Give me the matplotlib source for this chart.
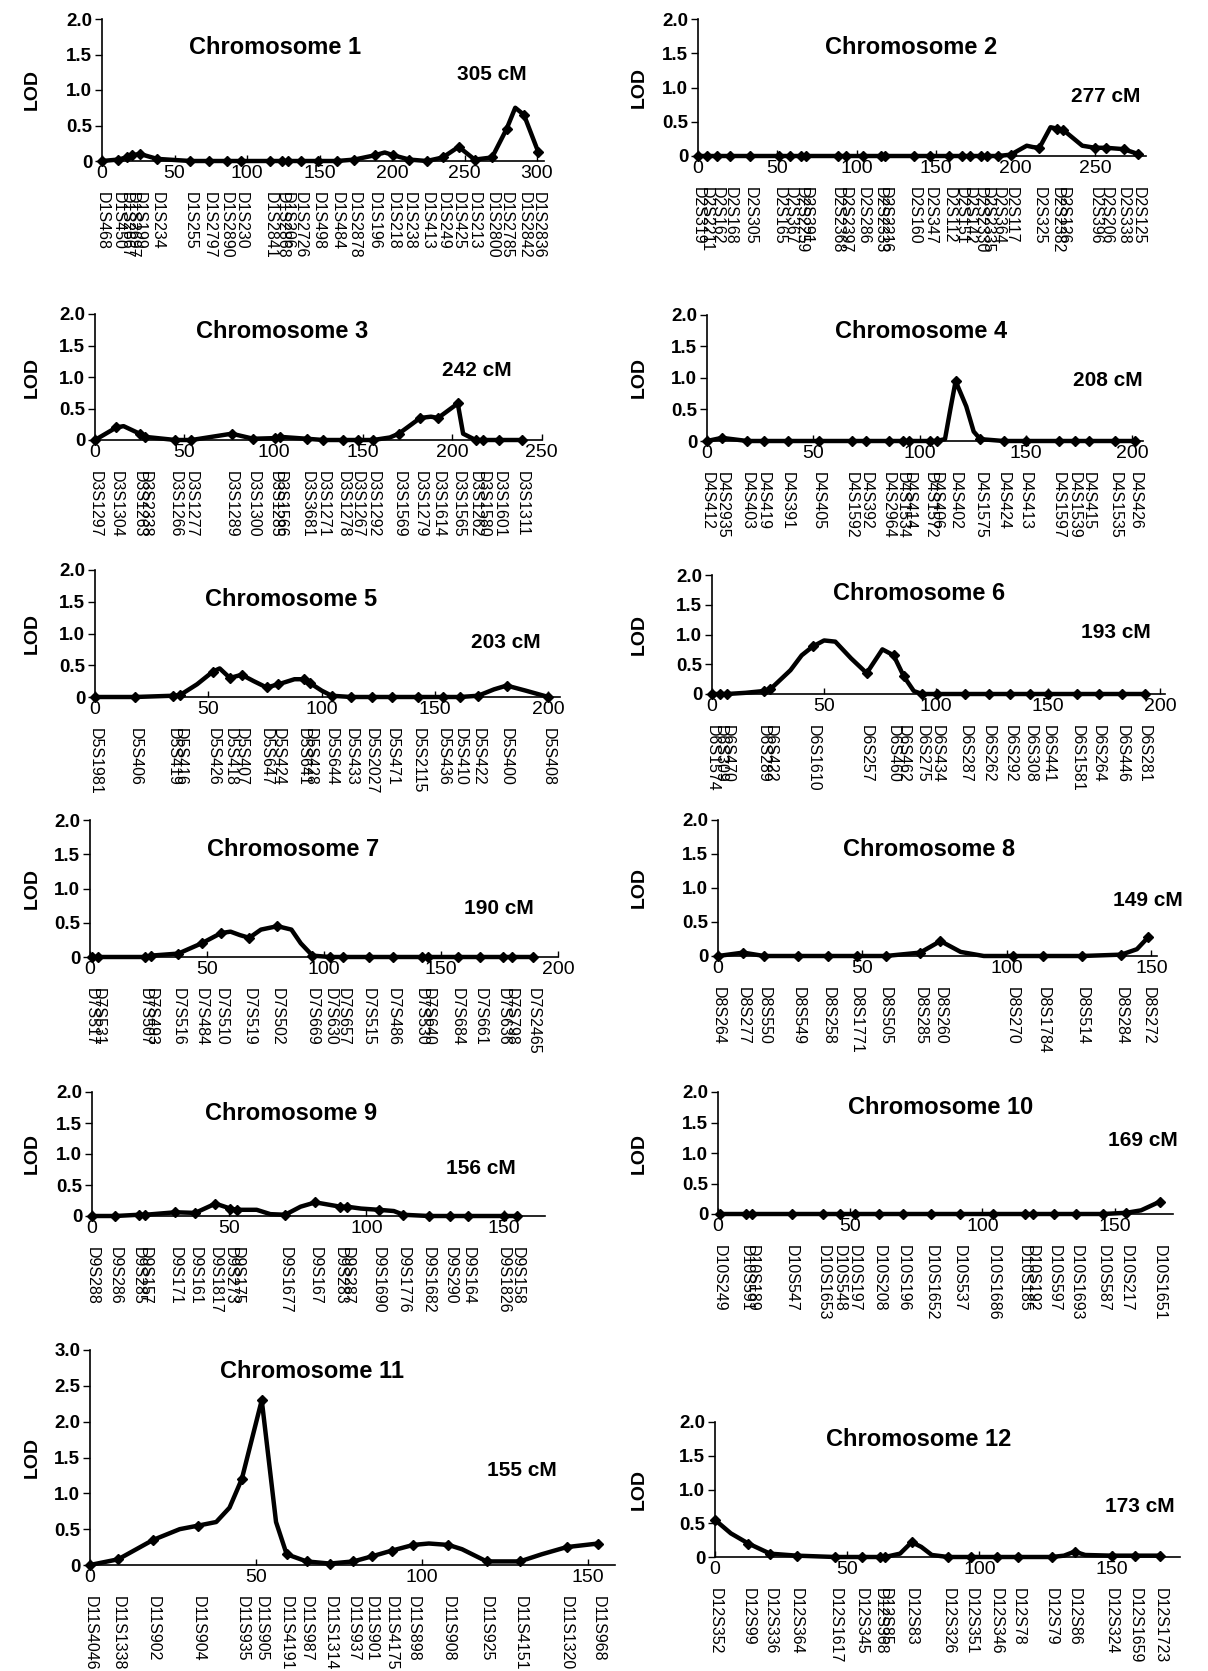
import numpy as np
import matplotlib
matplotlib.use("Agg")
import matplotlib.pyplot as plt

plt.rcParams['font.family'] = ['Liberation Sans', 'DejaVu Sans']

W, H = 1208, 1671

# ---------------- data ----------------
chr1_names = ["D1S468", "D1S450", "D1S2667", "D1S2697", "D1S199", "D1S234", "D1S255", "D1S2797",
              "D1S2890", "D1S230", "D1S2841", "D1S2868", "D1S206", "D1S2726", "D1S498", "D1S484",
              "D1S2878", "D1S196", "D1S218", "D1S238", "D1S413", "D1S249", "D1S425", "D1S213",
              "D1S2800", "D1S2785", "D1S2842", "D1S2836"]
chr1_pos = [0, 11, 17, 21, 26, 38, 61, 74, 86, 96, 116, 124, 128, 137, 149, 162,
            174, 188, 201, 212, 224, 235, 246, 257, 269, 279, 291, 301]
chr1_lod = [0, 0.02, 0.05, 0.08, 0.1, 0.03, 0, 0, 0, 0, 0, 0, 0, 0, 0, 0,
            0.02, 0.08, 0.08, 0.02, 0, 0.05, 0.2, 0.02, 0.05, 0.45, 0.65, 0.12]
chr1_xpos = [195, 285]
chr1_xlod = [0.12, 0.75]

chr2_names = ["D2S319", "D2S2211", "D2S162", "D2S168", "D2S305", "D2S165", "D2S367", "D2S2259",
              "D2S391", "D2S2368", "D2S2397", "D2S286", "D2S2333", "D2S2216", "D2S160", "D2S347",
              "D2S112", "D2S151", "D2S142", "D2S2330", "D2S2335", "D2S364", "D2S117", "D2S325",
              "D2S2382", "D2S126", "D2S396", "D2S206", "D2S338", "D2S125"]
chr2_pos = [0, 5.5, 12, 20, 33, 51, 58, 65, 68, 88, 93, 104, 115, 118, 136, 146,
            158, 166, 171, 178, 182, 189, 197, 215, 226, 230, 250, 257, 268, 277]
chr2_lod = [0] * 22 + [0.02, 0.12, 0.4, 0.38, 0.12, 0.12, 0.1, 0.03]
chr2_xpos = [207, 211, 222, 242]
chr2_xlod = [0.15, 0.13, 0.42, 0.15]

chr3_names = ["D3S1297", "D3S1304", "D3S1263", "D3S2338", "D3S1266", "D3S1277", "D3S1289", "D3S1300",
              "D3S1285", "D3S1566", "D3S3681", "D3S1271", "D3S1278", "D3S1267", "D3S1292", "D3S1569",
              "D3S1279", "D3S1614", "D3S1565", "D3S1262", "D3S1580", "D3S1601", "D3S1311"]
chr3_pos = [0, 12, 25, 28, 45, 54, 76.5, 88.6, 100.7, 103.5, 118.5, 127.8, 139, 147, 155.7,
            170, 182, 192, 203, 213, 217, 226, 239]
chr3_lod = [0, 0.2, 0.1, 0.05, 0, 0, 0.1, 0.02, 0.03, 0.05, 0.02, 0, 0, 0, 0,
            0.1, 0.35, 0.35, 0.58, 0, 0, 0, 0]
chr3_xpos = [16, 165, 188, 206]
chr3_xlod = [0.22, 0.04, 0.37, 0.1]

chr4_names = ["D4S412", "D4S2935", "D4S403", "D4S419", "D4S391", "D4S405", "D4S1592", "D4S392",
              "D4S2964", "D4S1534", "D4S414", "D4S1572", "D4S406", "D4S402", "D4S1575", "D4S424",
              "D4S413", "D4S1597", "D4S1539", "D4S415", "D4S1535", "D4S426"]
chr4_pos = [0, 7, 19, 26.6, 38, 52.5, 68, 75, 85.5, 92, 95, 105, 108, 117, 128.6, 139.6,
            150, 165.5, 173, 179.6, 192, 201.5]
chr4_lod = [0, 0.05, 0, 0, 0, 0, 0, 0, 0, 0, 0, 0, 0, 0.95, 0.03, 0,
            0, 0, 0, 0, 0, 0]
chr4_xpos = [112, 114.5, 122, 125.5]
chr4_xlod = [0.03, 0.5, 0.55, 0.15]

chr5_names = ["D5S1981", "D5S406", "D5S419", "D5S416", "D5S426", "D5S418", "D5S407", "D5S647",
              "D5S424", "D5S641", "D5S428", "D5S644", "D5S433", "D5S2027", "D5S471", "D5S2115",
              "D5S436", "D5S410", "D5S422", "D5S400", "D5S408"]
chr5_pos = [0, 17.6, 34.5, 37.5, 52, 59.5, 64.7, 75.7, 80.9, 92, 94.8, 104.4, 113, 122, 131, 142.6,
            153.6, 161, 169, 181.6, 200]
chr5_lod = [0, 0, 0.02, 0.03, 0.4, 0.3, 0.35, 0.15, 0.2, 0.28, 0.22, 0.02, 0, 0, 0, 0,
            0, 0, 0.02, 0.18, 0]
chr5_xpos = [45, 55, 70, 88, 100, 176, 190]
chr5_xlod = [0.2, 0.45, 0.25, 0.28, 0.1, 0.12, 0.1]

chr6_names = ["D6S1574", "D6S309", "D6S470", "D6S289", "D6S422", "D6S1610", "D6S257", "D6S460",
              "D6S462", "D6S275", "D6S434", "D6S287", "D6S262", "D6S292", "D6S308", "D6S441",
              "D6S1581", "D6S264", "D6S446", "D6S281"]
chr6_pos = [0, 3.7, 6.7, 23, 26, 45, 69, 81, 85.5, 93.7, 100.4, 113, 123.4, 133, 142, 150,
            162.8, 172.4, 183, 193]
chr6_lod = [0, 0, 0, 0.05, 0.08, 0.8, 0.35, 0.65, 0.3, 0, 0, 0, 0, 0, 0, 0,
            0, 0, 0, 0]
chr6_xpos = [15, 35, 40, 50, 55, 62, 76, 90]
chr6_xlod = [0.02, 0.4, 0.65, 0.9, 0.88, 0.6, 0.75, 0.05]

chr7_names = ["D7S517", "D7S531", "D7S507", "D7S493", "D7S516", "D7S484", "D7S510", "D7S519",
              "D7S502", "D7S669", "D7S630", "D7S657", "D7S515", "D7S486", "D7S530", "D7S640",
              "D7S684", "D7S661", "D7S636", "D7S798", "D7S2465"]
chr7_pos = [0.7, 3.5, 23.5, 26, 37.7, 47.7, 56, 68, 80, 95, 102.5, 108, 119, 129.5, 141.6, 144.5,
            157, 166.5, 176.5, 180, 189.3]
chr7_lod = [0, 0, 0, 0.02, 0.05, 0.2, 0.35, 0.28, 0.45, 0.02, 0, 0, 0, 0, 0, 0,
            0, 0, 0, 0, 0]
chr7_xpos = [60, 64, 73, 86, 90]
chr7_xlod = [0.37, 0.32, 0.4, 0.4, 0.2]

chr8_names = ["D8S264", "D8S277", "D8S550", "D8S549", "D8S258", "D8S1771", "D8S505", "D8S285",
              "D8S260", "D8S270", "D8S1784", "D8S514", "D8S284", "D8S272"]
chr8_pos = [0, 8.7, 16, 27.7, 38, 48, 58, 70, 77, 102, 112.5, 126, 139.6, 149]
chr8_lod = [0, 0.05, 0, 0, 0, 0, 0, 0.05, 0.22, 0, 0, 0, 0.02, 0.28]
chr8_xpos = [84, 92, 145]
chr8_xlod = [0.06, 0.0, 0.1]

chr9_names = ["D9S288", "D9S286", "D9S285", "D9S157", "D9S171", "D9S161", "D9S1817", "D9S273",
              "D9S175", "D9S1677", "D9S167", "D9S283", "D9S287", "D9S1690", "D9S1776", "D9S1682",
              "D9S290", "D9S164", "D9S1826", "D9S158"]
chr9_pos = [0, 8.5, 17, 19.4, 30.4, 37.6, 45, 50.4, 52.8, 70.4, 81.4, 90.5, 93, 104.5, 113.5, 122.7,
            130.6, 137, 150, 155]
chr9_lod = [0, 0, 0.02, 0.02, 0.06, 0.05, 0.2, 0.12, 0.1, 0.02, 0.22, 0.15, 0.15, 0.1, 0.02, 0,
            0, 0, 0, 0]
chr9_xpos = [60, 65, 76, 98, 110]
chr9_xlod = [0.1, 0.03, 0.15, 0.12, 0.08]

chr10_names = ["D10S249", "D10S591", "D10S189", "D10S547", "D10S1653", "D10S548", "D10S197", "D10S208",
               "D10S196", "D10S1652", "D10S537", "D10S1686", "D10S185", "D10S192", "D10S597",
               "D10S1693", "D10S587", "D10S217", "D10S1651"]
chr10_pos = [0.6, 10.7, 13, 27.8, 39.7, 46, 51.7, 61, 70, 80.7, 91.4, 104, 116, 119, 127,
             135.5, 145.6, 154.5, 167]
chr10_lod = [0] * 17 + [0.02, 0.2]
chr10_xpos = [160, 164]
chr10_xlod = [0.06, 0.14]

chr11_names = ["D11S4046", "D11S1338", "D11S902", "D11S904", "D11S935", "D11S905", "D11S4191",
               "D11S987", "D11S1314", "D11S937", "D11S901", "D11S4175", "D11S898", "D11S908",
               "D11S925", "D11S4151", "D11S1320", "D11S968"]
chr11_pos = [0, 8.5, 19, 32.6, 45.7, 51.7, 59.2, 65.2, 72.2, 79.3, 84.8, 90.8, 97.3, 107.9,
             119.4, 129.4, 143.5, 153]
chr11_lod = [0, 0.08, 0.35, 0.55, 1.2, 2.3, 0.15, 0.05, 0.02, 0.05, 0.12, 0.2, 0.28, 0.28,
             0.05, 0.05, 0.25, 0.3]
chr11_xpos = [27, 38, 42, 56, 102, 112, 136]
chr11_xlod = [0.5, 0.6, 0.8, 0.6, 0.3, 0.22, 0.15]

chr12_names = ["D12S352", "D12S99", "D12S336", "D12S364", "D12S1617", "D12S345", "D12S368", "D12S85",
               "D12S83", "D12S326", "D12S351", "D12S346", "D12S78", "D12S79", "D12S86", "D12S324",
               "D12S1659", "D12S1723"]
chr12_pos = [0, 12.6, 20.8, 30.9, 45.4, 55.5, 62.4, 64.3, 74.4, 88.2, 97, 106.5, 114.7, 127.3,
             136, 150, 158.9, 168.3]
chr12_lod = [0.55, 0.2, 0.05, 0.02, 0, 0, 0, 0, 0.22, 0, 0, 0, 0, 0, 0.08, 0.02, 0.02, 0.02]
chr12_xpos = [6, 70, 78, 82, 132, 140]
chr12_xlod = [0.35, 0.05, 0.15, 0.03, 0.02, 0.03]

lengths = ["305 cM", "277 cM", "242 cM", "208 cM", "203 cM", "193 cM",
           "190 cM", "149 cM", "156 cM", "169 cM", "155 cM", "173 cM"]
titles = ["Chromosome %d" % i for i in range(1, 13)]

data = [
    (chr1_names, chr1_pos, chr1_lod, chr1_xpos, chr1_xlod),
    (chr2_names, chr2_pos, chr2_lod, chr2_xpos, chr2_xlod),
    (chr3_names, chr3_pos, chr3_lod, chr3_xpos, chr3_xlod),
    (chr4_names, chr4_pos, chr4_lod, chr4_xpos, chr4_xlod),
    (chr5_names, chr5_pos, chr5_lod, chr5_xpos, chr5_xlod),
    (chr6_names, chr6_pos, chr6_lod, chr6_xpos, chr6_xlod),
    (chr7_names, chr7_pos, chr7_lod, chr7_xpos, chr7_xlod),
    (chr8_names, chr8_pos, chr8_lod, chr8_xpos, chr8_xlod),
    (chr9_names, chr9_pos, chr9_lod, chr9_xpos, chr9_xlod),
    (chr10_names, chr10_pos, chr10_lod, chr10_xpos, chr10_xlod),
    (chr11_names, chr11_pos, chr11_lod, chr11_xpos, chr11_xlod),
    (chr12_names, chr12_pos, chr12_lod, chr12_xpos, chr12_xlod),
]

# ---------------- layout (pixels) ----------------
# x0, px per cM, xmax, y of LOD 0, y of top, ymax, title (x,y), length label (x,y)
layout = [
    (102, 1.45, 305, 161, 19, 2.0, (275, 48), (492, 75)),
    (698, 1.588, 282, 156, 19, 2.0, (911, 48), (1106, 96)),
    (95, 1.787, 250, 440, 314, 2.0, (282, 332), (477, 371)),
    (707, 2.125, 205, 441, 315, 2.0, (921, 332), (1108, 380)),
    (95, 2.267, 205, 697, 570, 2.0, (291, 600), (506, 642)),
    (712, 2.242, 202, 694, 575, 2.0, (919, 593), (1116, 632)),
    (90, 2.342, 200, 957, 820, 2.0, (293, 849), (499, 908)),
    (718, 2.889, 152, 956, 820, 2.0, (929, 849), (1148, 901)),
    (92, 2.744, 165, 1216, 1092, 2.0, (291, 1114), (481, 1169)),
    (718, 2.644, 172, 1214, 1092, 2.0, (941, 1108), (1143, 1140)),
    (90, 3.322, 158, 1565, 1350, 3.0, (312, 1372), (522, 1470)),
    (715, 2.644, 176, 1557, 1422, 2.0, (919, 1440), (1140, 1507)),
]

fig = plt.figure(figsize=(W / 100, H / 100), dpi=100)
fig.patch.set_facecolor('white')

for i, ((names, mpos, mlod, xpos, xlod), lay) in enumerate(zip(data, layout)):
    x0, s, xmax, y0, ytop, ymax, txy, lxy = lay
    ax = fig.add_axes([x0 / W, 1 - y0 / H, xmax * s / W, (y0 - ytop) / H])
    cx = np.concatenate([np.asarray(mpos, float), np.asarray(xpos, float)])
    cy = np.concatenate([np.asarray(mlod, float), np.asarray(xlod, float)])
    order = np.argsort(cx, kind='stable')
    ax.plot(cx[order], cy[order], color='black', lw=3.2, solid_joinstyle='round',
            solid_capstyle='round', clip_on=False, zorder=3)
    ax.plot(mpos, mlod, 'D', color='black', ms=5, clip_on=False, zorder=4)
    ax.set_xlim(0, xmax)
    ax.set_ylim(0, ymax)
    yt = np.arange(0, ymax + 0.01, 0.5)
    ax.set_yticks(yt)
    ax.set_yticklabels(['0'] + ['%.1f' % v for v in yt[1:]], fontsize=13.5, fontweight='bold')
    xt = np.arange(0, xmax + 1, 50)
    ax.set_xticks(xt)
    ax.set_xticklabels(['%d' % v for v in xt], fontsize=14)
    ax.tick_params(axis='y', direction='out', length=5, width=1, pad=2)
    ax.tick_params(axis='x', direction='in', length=4, width=1, pad=3)
    for sp in ['top', 'right']:
        ax.spines[sp].set_visible(False)
    ax.spines['left'].set_linewidth(1.2)
    ax.spines['bottom'].set_linewidth(1.2)
    ax.patch.set_alpha(0)
    for n, p in zip(names, mpos):
        ax.annotate(n, xy=(p, 0), xycoords='data', xytext=(0, -31), textcoords='offset pixels',
                    rotation=-90, ha='center', va='top', fontsize=11.5)
    fig.text(txy[0] / W, 1 - txy[1] / H, titles[i], ha='center', va='center',
             fontsize=17, fontweight='bold')
    fig.text(lxy[0] / W, 1 - lxy[1] / H, lengths[i], ha='center', va='center',
             fontsize=15, fontweight='bold')
    lx = 32 if x0 < 400 else 639
    fig.text(lx / W, 1 - ((y0 + ytop) / 2) / H, 'LOD', ha='center', va='center',
             rotation=90, fontsize=14, fontweight='bold')

fig.savefig('out.png', dpi=100, facecolor='white')
